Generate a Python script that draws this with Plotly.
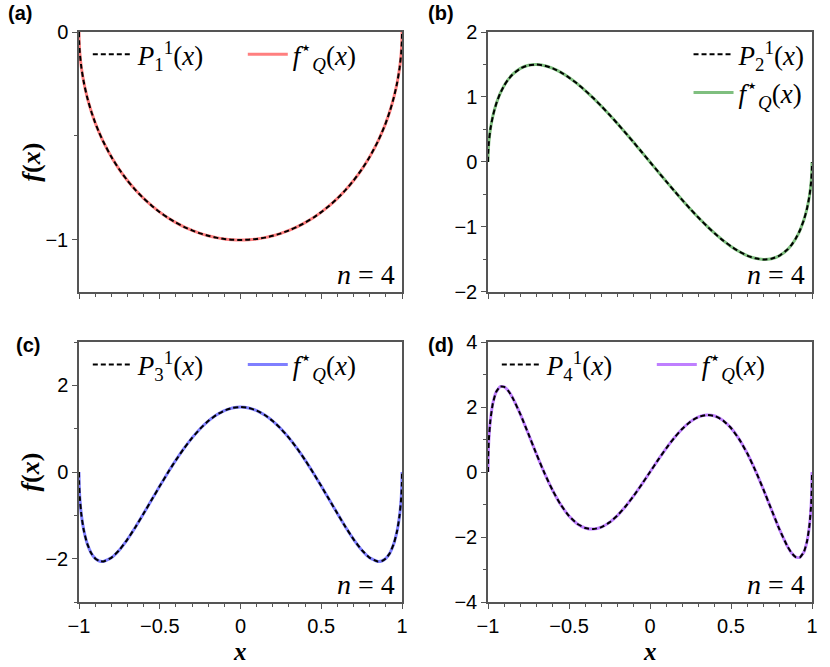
import plotly.graph_objects as go
from plotly.subplots import make_subplots

# sample points along x (dense near the edges where the curves turn steeply)
x_vals = [-1, -0.999, -0.995, -0.985, -0.97, -0.95, -0.925, -0.9, -0.875, -0.85,
          -0.8, -0.75, -0.7, -0.65, -0.6, -0.55, -0.5, -0.45, -0.4, -0.35,
          -0.3, -0.25, -0.2, -0.15, -0.1, -0.05, 0,
          0.05, 0.1, 0.15, 0.2, 0.25, 0.3, 0.35, 0.4, 0.45, 0.5,
          0.55, 0.6, 0.65, 0.7, 0.75, 0.8, 0.85, 0.875, 0.9, 0.925,
          0.95, 0.97, 0.985, 0.995, 0.999, 1]

p1_vals = [0, -0.0447, -0.0999, -0.1726, -0.2431, -0.3122, -0.3800, -0.4359, -0.4841, -0.5268,
           -0.6, -0.6614, -0.7141, -0.7599, -0.8, -0.8352, -0.8660, -0.8930, -0.9165, -0.9367,
           -0.9539, -0.9682, -0.9798, -0.9887, -0.9950, -0.9987, -1.0,
           -0.9987, -0.9950, -0.9887, -0.9798, -0.9682, -0.9539, -0.9367, -0.9165, -0.8930, -0.8660,
           -0.8352, -0.8, -0.7599, -0.7141, -0.6614, -0.6, -0.5268, -0.4841, -0.4359, -0.3800,
           -0.3122, -0.2431, -0.1726, -0.0999, -0.0447, 0]

p2_vals = [0, 0.1340, 0.2981, 0.5099, 0.7074, 0.8899, 1.0544, 1.1769, 1.2708, 1.3433,
           1.44, 1.4882, 1.4997, 1.4819, 1.44, 1.3780, 1.2990, 1.2056, 1.0998, 0.9836,
           0.8585, 0.7262, 0.5879, 0.4449, 0.2985, 0.1498, 0,
           -0.1498, -0.2985, -0.4449, -0.5879, -0.7262, -0.8585, -0.9836, -1.0998, -1.2056, -1.2990,
           -1.3780, -1.44, -1.4819, -1.4997, -1.4882, -1.44, -1.3433, -1.2708, -1.1769, -1.0544,
           -0.8899, -0.7074, -0.5099, -0.2981, -0.1340, 0]

p3_vals = [0, -0.2676, -0.5918, -0.9968, -1.3508, -1.6452, -1.8684, -1.9942, -2.0537, -2.0643,
           -1.98, -1.7983, -1.5533, -1.2681, -0.96, -0.6420, -0.3248, -0.0167, 0.2750, 0.5445,
           0.7870, 0.9985, 1.1758, 1.3162, 1.4179, 1.4794, 1.5,
           1.4794, 1.4179, 1.3162, 1.1758, 0.9985, 0.7870, 0.5445, 0.2750, -0.0167, -0.3248,
           -0.6420, -0.96, -1.2681, -1.5533, -1.7983, -1.98, -2.0643, -2.0537, -1.9942, -1.8684,
           -1.6452, -1.3508, -0.9968, -0.5918, -0.2676, 0]

p4_vals = [0, 0.445, 0.9764, 1.6111, 2.1142, 2.4602, 2.6267, 2.6186, 2.4986, 2.3032,
           1.776, 1.1627, 0.5374, -0.0525, -0.576, -1.0134, -1.3532, -1.5899, -1.7231, -1.7561,
           -1.6956, -1.5507, -1.3325, -1.0539, -0.7288, -0.3723, 0,
           0.3723, 0.7288, 1.0539, 1.3325, 1.5507, 1.6956, 1.7561, 1.7231, 1.5899, 1.3532,
           1.0134, 0.576, 0.0525, -0.5374, -1.1627, -1.776, -2.3032, -2.4986, -2.6186, -2.6267,
           -2.4602, -2.1142, -1.6111, -0.9764, -0.445, 0]

# the fitted curves sit right on top of the exact ones
fq1_vals = p1_vals
fq2_vals = p2_vals
fq3_vals = p3_vals
fq4_vals = p4_vals

panel_labels = ["(a)", "(b)", "(c)", "(d)"]
y_ranges = [[-1.25, 0], [-2, 2], [-3, 3], [-4, 4]]
y_dticks = [1, 1, 2, 2]
y_minor = [0.5, 0.5, 1, 1]
fit_colors = ["rgba(255,0,0,0.5)", "rgba(0,128,0,0.5)", "rgba(0,0,255,0.5)", "rgba(128,0,255,0.5)"]

exact_series = [p1_vals, p2_vals, p3_vals, p4_vals]
fit_series = [fq1_vals, fq2_vals, fq3_vals, fq4_vals]

SERIF = "Liberation Serif"
SANS = "Liberation Sans"

fig = make_subplots(rows=2, cols=2)

x_domains = [[0, 0.4407], [0.558, 1.0]]
y_domains = [[0.5439, 1.0], [0, 0.4561]]

for i in range(4):
    row, col = i // 2 + 1, i % 2 + 1
    leg = "legend" if i == 0 else f"legend{i + 1}"

    fig.add_trace(go.Scatter(
        x=x_vals, y=fit_series[i], mode="lines",
        line=dict(color=fit_colors[i], width=3, shape="spline", smoothing=0.5),
        name="<i>f</i><sup>⋆</sup><sub><i>Q</i></sub>(<i>x</i>)",
        legend=leg, legendrank=2
    ), row=row, col=col)

    fig.add_trace(go.Scatter(
        x=x_vals, y=exact_series[i], mode="lines",
        line=dict(color="black", width=2, dash="5px,3px", shape="spline", smoothing=0.5),
        name=f"<i>P</i><sub>{i + 1}</sub><sup>1</sup>(<i>x</i>)",
        legend=leg, legendrank=1
    ), row=row, col=col)

    fig.update_xaxes(
        domain=x_domains[col - 1], range=[-1, 1], dtick=0.5,
        showticklabels=(row == 2),
        row=row, col=col
    )
    fig.update_yaxes(
        domain=y_domains[row - 1], range=y_ranges[i], dtick=y_dticks[i],
        minor=dict(ticks="outside", ticklen=3, dtick=y_minor[i], tickcolor="#555"),
        row=row, col=col
    )

fig.update_xaxes(
    showline=True, linecolor="#555", linewidth=1.5, mirror=True,
    ticks="outside", ticklen=5, tickcolor="#555", showgrid=False, zeroline=False,
    minor=dict(ticks="outside", ticklen=3, dtick=0.1, tickcolor="#555"),
    tickfont=dict(family=SANS, size=20, color="black")
)
fig.update_yaxes(
    showline=True, linecolor="#555", linewidth=1.5, mirror=True,
    ticks="outside", ticklen=5, tickcolor="#555", showgrid=False, zeroline=False,
    tickfont=dict(family=SANS, size=20, color="black")
)

legend_style = dict(
    bgcolor="rgba(0,0,0,0)", font=dict(family=SERIF, size=27, color="black"),
    xanchor="left", yanchor="top", itemwidth=40
)

fig.update_layout(
    legend=dict(**legend_style, x=0.012, y=1.003, orientation="h", entrywidth=100),
    legend2=dict(**{**legend_style, "xanchor": "right"}, x=0.998, y=1.003, orientation="v"),
    legend3=dict(**legend_style, x=0.012, y=0.459, orientation="h", entrywidth=100),
    legend4=dict(**legend_style, x=0.570, y=0.459, orientation="h", entrywidth=100),
)

# n = 4 tags in the lower right of each panel
for i in range(4):
    ax = "" if i == 0 else str(i + 1)
    fig.add_annotation(
        text="<i>n</i> = 4", xref=f"x{ax} domain", yref=f"y{ax} domain",
        x=0.985, y=0.0, xanchor="right", yanchor="bottom", showarrow=False,
        font=dict(family=SERIF, size=28, color="black")
    )

# panel letters
label_pos = [(-0.099, 1.033), (0.473, 1.033), (-0.089, 0.451), (0.473, 0.451)]
for lab, (px, py) in zip(panel_labels, label_pos):
    fig.add_annotation(
        text=f"<b>{lab}</b>", xref="paper", yref="paper", x=px, y=py,
        xanchor="left", yanchor="middle", showarrow=False,
        font=dict(family=SANS, size=20, color="black")
    )

# axis titles
for py in [0.7719, 0.2281]:
    fig.add_annotation(
        text="<b><i>f</i>(<i>x</i>)</b>", xref="paper", yref="paper", x=-0.066, y=py,
        xanchor="center", yanchor="middle", textangle=-90, showarrow=False,
        font=dict(family=SERIF, size=26, color="black")
    )
for px in [0.2203, 0.779]:
    fig.add_annotation(
        text="<b><i>x</i></b>", xref="paper", yref="paper", x=px, y=-0.086,
        xanchor="center", yanchor="middle", showarrow=False,
        font=dict(family=SERIF, size=25, color="black")
    )

fig.update_layout(
    width=830, height=667,
    margin=dict(l=79, r=18, t=32, b=65),
    template="plotly_white",
    plot_bgcolor="white", paper_bgcolor="white",
    showlegend=True
)

# drop the browser's default page margin so the figure sits at the top-left corner
fig.write_html("out.html", config={"displayModeBar": False},
               post_script="document.body.style.margin='0';")
